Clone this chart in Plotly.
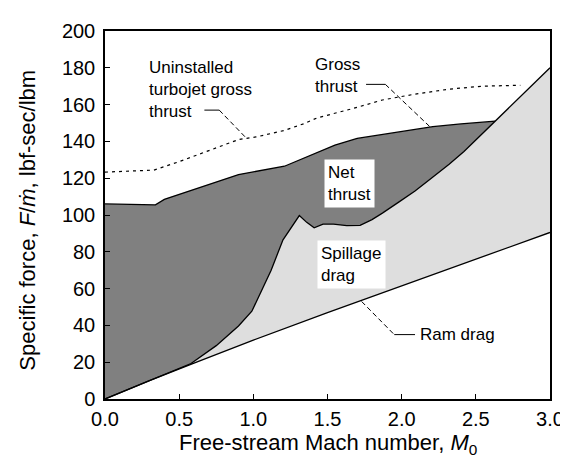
import plotly.graph_objects as go

# Ram drag line (bottom of the spillage region)
ram_mach = [0.0, 0.3, 0.6, 1.0, 1.5, 2.0, 2.5, 3.0]
ram_drag = [0.0, 10.0, 19.5, 32.0, 47.0, 61.5, 76.0, 90.5]

# Ram + spillage drag (bottom of the net-thrust region)
spill_mach = [0.0, 0.3, 0.58, 0.75, 0.9, 0.99, 1.06, 1.12, 1.2, 1.26, 1.31, 1.36,
              1.41, 1.47, 1.54, 1.63, 1.72, 1.8, 1.87, 1.98, 2.09, 2.2, 2.32,
              2.42, 2.49, 2.56, 2.63, 2.72, 2.8, 2.9, 3.0]
spill_drag = [0.0, 10.0, 19.3, 29.0, 39.7, 47.7, 59.5, 70.0, 86.5, 94.0, 99.7, 96.0,
              93.0, 95.0, 95.0, 94.2, 94.4, 97.5, 101.0, 107.0, 113.0, 120.0, 127.6,
              134.5, 140.0, 145.5, 151.0, 158.0, 164.5, 172.5, 180.0]

# Installed gross thrust (top of the net-thrust region)
gross_mach = [0.0, 0.34, 0.40, 0.6, 0.9, 1.21, 1.34, 1.43, 1.55, 1.7, 1.87,
              2.05, 2.21, 2.4, 2.63]
gross_thrust = [106.0, 105.5, 108.5, 114.0, 122.0, 126.5, 131.0, 134.0, 138.0,
                141.6, 143.7, 146.0, 148.0, 149.5, 151.0]

# Uninstalled turbojet gross thrust (dotted)
turbo_mach = [0.0, 0.33, 0.5, 0.73, 0.9, 1.03, 1.21, 1.34, 1.43, 1.66, 1.87,
              2.09, 2.32, 2.54, 2.8]
turbo_thrust = [123.3, 124.4, 129.0, 136.0, 141.0, 142.6, 146.0, 149.6, 152.8,
                157.6, 162.5, 165.7, 168.4, 170.0, 170.5]

DARK = "#808080"
LIGHT = "#dedede"
FONT = "Liberation Sans, Arial, sans-serif"

fig = go.Figure()

# light region: ram drag -> spillage curve
fig.add_trace(go.Scatter(
    x=spill_mach + ram_mach[::-1], y=spill_drag + ram_drag[::-1],
    fill="toself", fillcolor=LIGHT, mode="lines", line=dict(width=0),
    hoverinfo="skip"))

# dark region: spillage curve -> gross thrust, up to where they meet
end = gross_mach[-1]
sm = [m for m in spill_mach if m <= end]
sd = spill_drag[:len(sm)]
fig.add_trace(go.Scatter(
    x=gross_mach + sm[::-1], y=gross_thrust + sd[::-1],
    fill="toself", fillcolor=DARK, mode="lines", line=dict(width=0),
    hoverinfo="skip"))

line = dict(color="black", width=1.3)
for xs, ys in [(ram_mach, ram_drag), (spill_mach, spill_drag), (gross_mach, gross_thrust)]:
    fig.add_trace(go.Scatter(x=xs, y=ys, mode="lines", line=line, hoverinfo="skip"))
fig.add_trace(go.Scatter(x=turbo_mach, y=turbo_thrust, mode="lines",
                         line=dict(color="black", width=1.2, dash="3px,4px")))

# leader lines
lead = dict(color="black", width=1)
dash = dict(color="black", width=1, dash="5px,3px")
fig.add_shape(type="line", x0=0.67, y0=157, x1=0.77, y1=157, line=lead)
fig.add_shape(type="line", x0=0.77, y0=157, x1=0.95, y1=142, line=dash)
fig.add_shape(type="line", x0=1.76, y0=171, x1=1.89, y1=171, line=lead)
fig.add_shape(type="line", x0=1.89, y0=171, x1=2.19, y1=148, line=dash)
fig.add_shape(type="line", x0=1.73, y0=53, x1=1.95, y1=35, line=dash)
fig.add_shape(type="line", x0=1.95, y0=35, x1=2.09, y1=35, line=lead)

afont = dict(family=FONT, size=17, color="black")
fig.add_annotation(x=0.285, y=168, text="Uninstalled<br>turbojet gross<br>thrust",
                   xanchor="left", yanchor="middle", align="left", showarrow=False, font=afont)
fig.add_annotation(x=1.40, y=176, text="Gross<br>thrust", xanchor="left",
                   yanchor="middle", align="left", showarrow=False, font=afont)
fig.add_annotation(x=1.65, y=117, text="Net<br>thrust", align="left", showarrow=False,
                   bgcolor="white", borderpad=3, font=afont)
fig.add_annotation(x=1.66, y=73, text="Spillage<br>drag", align="left", showarrow=False,
                   bgcolor="white", borderpad=3, font=afont)
fig.add_annotation(x=2.11, y=35, text="Ram drag", xanchor="left", yanchor="middle",
                   showarrow=False, font=afont)

# axis titles placed as paper annotations
tfont = dict(family=FONT, size=22, color="black")
fig.add_annotation(xref="paper", yref="paper", x=0.5, y=-0.122,
                   text="Free-stream Mach number, <i>M</i><sub>0</sub>",
                   xanchor="center", yanchor="middle", showarrow=False, font=tfont)
fig.add_annotation(xref="paper", yref="paper", x=-0.175, y=0.485, textangle=-90,
                   text="Specific force, <i>F</i>/<i>ṁ</i>, lbf-sec/lbm",
                   xanchor="center", yanchor="middle", showarrow=False, font=tfont)

axis = dict(showline=True, linecolor="black", linewidth=1.5, mirror=True,
            ticks="inside", ticklen=5, tickcolor="black", showgrid=False,
            zeroline=False, tickfont=dict(family=FONT, size=20, color="black"))
fig.update_xaxes(**axis, range=[0, 3], tickvals=[0, 0.5, 1, 1.5, 2, 2.5, 3],
                 tickformat=".1f", ticklabelstandoff=1)
fig.update_yaxes(**axis, range=[0, 200], dtick=20, ticklabelstandoff=4)
fig.update_layout(width=568, height=457, showlegend=False,
                  plot_bgcolor="white", paper_bgcolor="white",
                  margin=dict(l=97, r=19, t=18, b=66))

fig.write_html("out.html")
